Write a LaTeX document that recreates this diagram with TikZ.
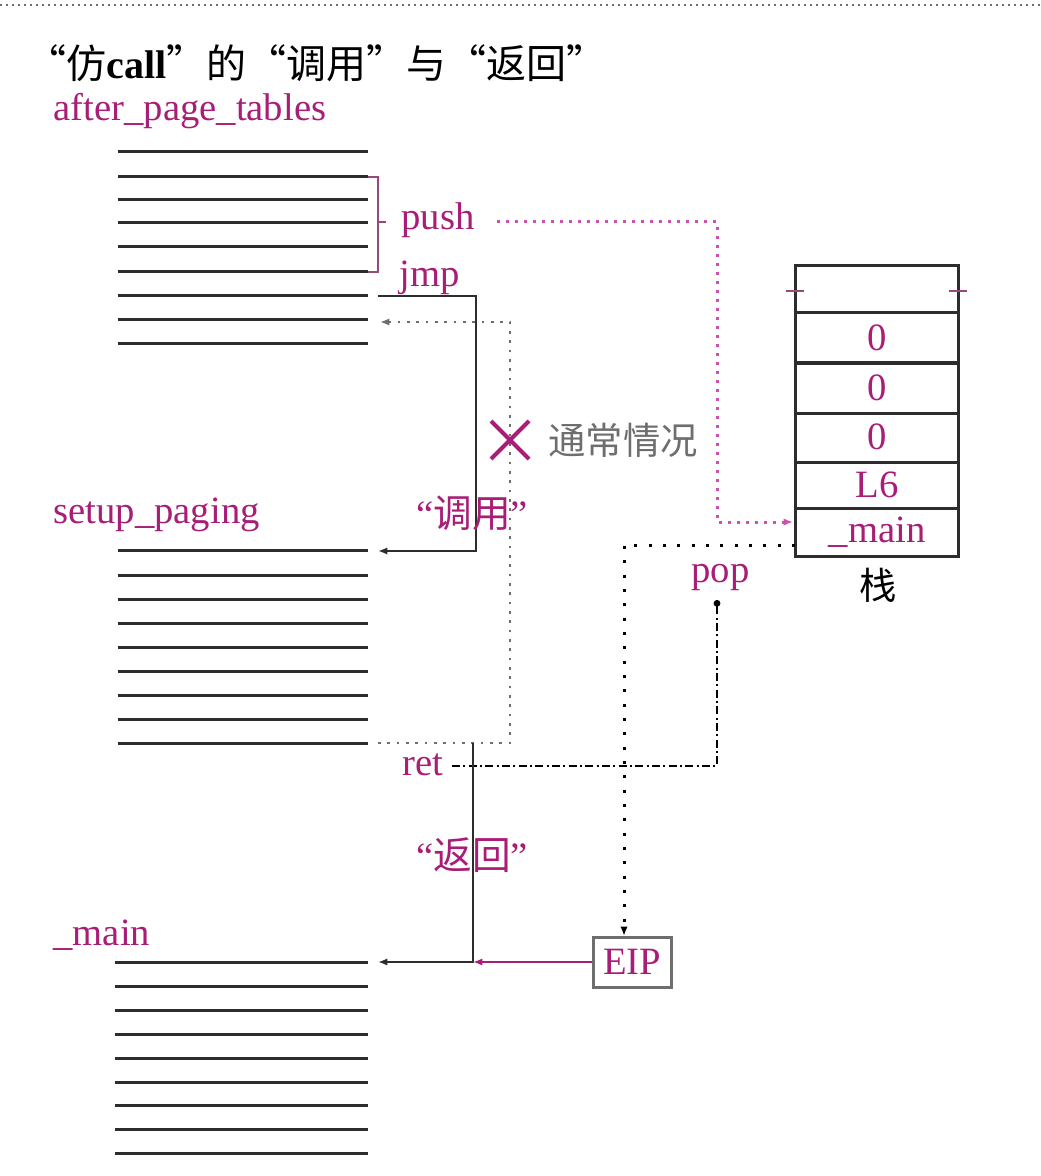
\documentclass[tikz,border=0pt]{standalone}
\usepackage{fontspec}
\setmainfont{Liberation Serif}
\newfontfamily\cjk{Noto Sans CJK SC}
\usetikzlibrary{arrows.meta}
\definecolor{lblpink}{RGB}{168,30,118}
\definecolor{dotpink}{RGB}{205,80,170}
\definecolor{codegray}{RGB}{45,45,45}
\definecolor{normgray}{RGB}{110,110,110}
\tikzset{every picture/.style={line width=0.75pt}}
\tikzset{
  lbl/.style={text=lblpink, inner sep=0.75pt, font=\fontsize{29}{32}\selectfont},
  cjklbl/.style={inner sep=0.75pt, font=\fontsize{28}{30}\selectfont\cjk},
  codeline/.style={color=codegray, line width=2.25},
  tip/.style={-{Latex[length=7pt,width=5.5pt]}},
}

\begin{document}
\begin{tikzpicture}[x=0.75pt,y=0.75pt,yscale=-1,xscale=1]
\useasboundingbox (0,0) rectangle (1040,1176);

%Straight Lines [id:topdots]
\draw [color=normgray, line width=1.5, dash pattern=on 1.5pt off 3pt] (0,5) -- (1040,5);

% Text Node
\draw (25,63) node [cjklbl, anchor=west, font=\fontsize{30}{32}\selectfont\cjk] (title) {“仿{\rmfamily\bfseries call}”的“调用”与“返回”};

%Shape: Lines [id:after_page_tables]
\draw [codeline] (118,152) -- (368,152) (118,177) -- (368,177) (118,200) -- (368,200) (118,223) -- (368,223) (118,247) -- (368,247) (118,272) -- (368,272) (118,296) -- (368,296) (118,320) -- (368,320) (118,344) -- (368,344);
%Shape: Lines [id:setup_paging]
\draw [codeline] (118,550) -- (368,550) (118,575) -- (368,575) (118,599) -- (368,599) (118,623) -- (368,623) (118,647) -- (368,647) (118,671) -- (368,671) (118,695) -- (368,695) (118,719) -- (368,719) (118,743) -- (368,743);
%Shape: Lines [id:main]
\draw [codeline] (115,962) -- (368,962) (115,986) -- (368,986) (115,1010) -- (368,1010) (115,1034) -- (368,1034) (115,1058) -- (368,1058) (115,1082) -- (368,1082) (115,1105) -- (368,1105) (115,1129) -- (368,1129) (115,1153) -- (368,1153);

% Text Node
\draw (52,121) node [lbl, anchor=base west] (afterLbl) {after\_page\_tables};
% Text Node
\draw (52,523) node [lbl, anchor=base west] (setupLbl) {setup\_paging};
% Text Node
\draw (52,945) node [lbl, anchor=base west] (mainLbl) {\_main};

% connector ends
\coordinate (brTop) at (368,177);
\coordinate (brBot) at (368,272);
\coordinate (pushFrom) at (497,222);
\coordinate (stackIn) at (793,522);
\coordinate (jmpFrom) at (378,296);
\coordinate (setupIn) at (378,551);
\coordinate (retLine) at (473,743);
\coordinate (retFrom) at (378,743);
\coordinate (nextIn) at (380,322);
\coordinate (retTail) at (452,766);
\coordinate (popTip) at (717,600);
\coordinate (stackOut) at (795,545);
\coordinate (eipTop) at (624,936);
\coordinate (retJoin) at (473,962);
\coordinate (mainIn) at (378,962);

%Shape: Bracket [id:pushgroup]
\draw [color=lblpink!55!gray, line width=1.5] (brTop) -- (378,177) -- (378,272) -- (brBot) (378,222) -- (386,222);

% Text Node
\draw (400,230) node [lbl, anchor=base west] (pushLbl) {push};
% Text Node
\draw (398,287) node [lbl, anchor=base west] (jmpLbl) {jmp};
% Text Node
\draw (401,775) node [lbl, anchor=base west] (retLbl) {ret};
% Text Node
\draw (690,582) node [lbl, anchor=base west] (popLbl) {pop};

%Straight Lines [id:push]
\draw [dotpink, line width=2.25, dash pattern=on 2.25pt off 4.5pt, tip] (pushFrom) -- (717,222) -- (717,522) -- (stackIn);
%Straight Lines [id:jmp]
\draw [codeline, line width=2, tip] (jmpFrom) -- (476,296) -- (476,551) -- (setupIn);
%Straight Lines [id:normal]
\draw [normgray, line width=2, dash pattern=on 2pt off 5pt, tip] (retFrom) -- (510,743) -- (510,322) -- (nextIn);

%Shape: Cross [id:cross]
\draw [lblpink, line width=3] (491,421) -- (529,459) (491,459) -- (529,421);
% Text Node
\draw (623,440) node [cjklbl, text=normgray] (normalLbl) {通常情况};

% Text Node
\draw (472,513) node [lbl] (callLbl) {“{\cjk 调用}”};
% Text Node
\draw (472,855) node [lbl] (backLbl) {“{\cjk 返回}”};

%Shape: Stack [id:stack]
\draw [codegray, line width=2.25] (795,266) rectangle (958,556);
\draw [codegray, line width=2.25] (795,313) -- (958,313) (795,363) -- (958,363) (795,413) -- (958,413) (795,462) -- (958,462) (795,508) -- (958,508);
\draw [color=lblpink!55!gray, line width=1.5] (786,291) -- (804,291) (949,291) -- (967,291);
% Text Node
\draw (877,338) node [lbl] (s1) {0};
% Text Node
\draw (877,388) node [lbl] (s2) {0};
% Text Node
\draw (877,437) node [lbl] (s3) {0};
% Text Node
\draw (877,485) node [lbl] (s4) {L6};
% Text Node
\draw (877,532) node [lbl] (s5) {\_main};
% Text Node
\draw (878,585) node [cjklbl] (stackLbl) {栈};

% Text Node
\draw (632,962) node [lbl, draw=normgray, line width=2.25, minimum width=58.5pt, minimum height=37.5pt] (eip) {EIP};

%Straight Lines [id:pop]
\draw [black, line width=1.5, dash pattern=on 6pt off 2.5pt on 1.5pt off 2.5pt, -{Circle[length=5pt]}] (retTail) -- (717,766) -- (popTip);
%Straight Lines [id:toeip]
\draw [black, line width=2.25, dash pattern=on 2.25pt off 8.5pt, tip] (stackOut) -- (624,545) -- (eipTop);
%Straight Lines [id:return]
\draw [codeline, line width=2, tip] (retLine) -- (retJoin) -- (mainIn);
%Straight Lines [id:eipout]
\draw [lblpink, line width=2, tip] (eip.west) -- (retJoin);

\end{tikzpicture}
\end{document}
